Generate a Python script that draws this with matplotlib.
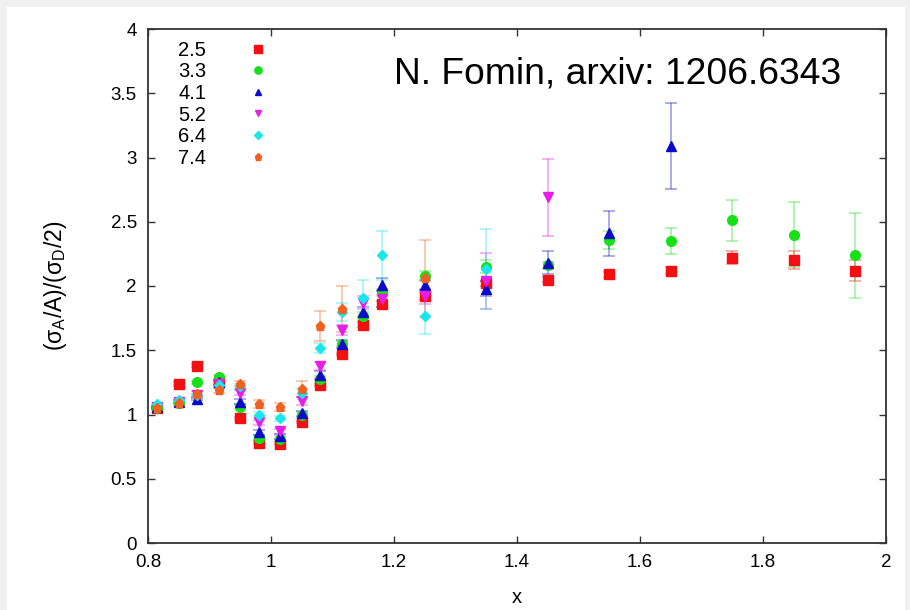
import matplotlib
matplotlib.use("Agg")
import matplotlib.pyplot as plt
from matplotlib.lines import Line2D
from matplotlib.patches import Rectangle

plt.rcParams['font.family'] = ['Liberation Sans', 'DejaVu Sans']

# ---- data ----
labels = ["2.5", "3.3", "4.1", "5.2", "6.4", "7.4"]

x_25 = [0.815, 0.85, 0.88, 0.915, 0.95, 0.98, 1.015, 1.05, 1.08, 1.115, 1.15, 1.18, 1.25, 1.35, 1.45, 1.55, 1.65, 1.75, 1.85, 1.95]
y_25 = [1.05, 1.24, 1.38, 1.25, 0.97, 0.78, 0.77, 0.94, 1.23, 1.47, 1.70, 1.86, 1.92, 2.02, 2.05, 2.09, 2.12, 2.22, 2.20, 2.12]
e_25 = [0.01, 0.01, 0.01, 0.01, 0.01, 0.01, 0.01, 0.01, 0.01, 0.01, 0.02, 0.02, 0.03, 0.02, 0.02, 0.02, 0.03, 0.05, 0.07, 0.08]

x_33 = [0.815, 0.85, 0.88, 0.915, 0.95, 0.98, 1.015, 1.05, 1.08, 1.115, 1.15, 1.18, 1.25, 1.35, 1.45, 1.55, 1.65, 1.75, 1.85, 1.95]
y_33 = [1.05, 1.09, 1.25, 1.29, 1.06, 0.82, 0.81, 1.00, 1.28, 1.55, 1.77, 1.95, 2.08, 2.15, 2.16, 2.36, 2.35, 2.51, 2.40, 2.24]
e_33 = [0.01, 0.01, 0.01, 0.02, 0.02, 0.02, 0.02, 0.02, 0.02, 0.02, 0.03, 0.03, 0.04, 0.05, 0.03, 0.07, 0.10, 0.16, 0.25, 0.33]

x_41 = [0.815, 0.85, 0.88, 0.915, 0.95, 0.98, 1.015, 1.05, 1.08, 1.115, 1.15, 1.18, 1.25, 1.35, 1.45, 1.55, 1.65]
y_41 = [1.06, 1.10, 1.12, 1.25, 1.10, 0.86, 0.83, 1.01, 1.31, 1.55, 1.80, 2.01, 2.01, 1.98, 2.18, 2.41, 3.09]
e_41 = [0.01, 0.01, 0.01, 0.02, 0.02, 0.02, 0.02, 0.02, 0.03, 0.03, 0.04, 0.05, 0.04, 0.06, 0.09, 0.175, 0.335]

x_52 = [0.815, 0.85, 0.88, 0.915, 0.95, 0.98, 1.015, 1.05, 1.08, 1.115, 1.15, 1.18, 1.25, 1.35, 1.45]
y_52 = [1.06, 1.10, 1.15, 1.24, 1.17, 0.94, 0.87, 1.105, 1.38, 1.66, 1.87, 1.90, 1.92, 2.04, 2.69]
e_52 = [0.01, 0.01, 0.01, 0.02, 0.02, 0.02, 0.02, 0.03, 0.03, 0.04, 0.05, 0.06, 0.06, 0.22, 0.30]

x_64 = [0.815, 0.85, 0.88, 0.915, 0.95, 0.98, 1.015, 1.05, 1.08, 1.115, 1.15, 1.18, 1.25, 1.35]
y_64 = [1.08, 1.11, 1.15, 1.23, 1.22, 1.00, 0.97, 1.17, 1.52, 1.80, 1.91, 2.24, 1.77, 2.13]
e_64 = [0.01, 0.01, 0.01, 0.02, 0.02, 0.02, 0.02, 0.03, 0.04, 0.07, 0.14, 0.19, 0.14, 0.31]

x_74 = [0.815, 0.85, 0.88, 0.915, 0.95, 0.98, 1.015, 1.05, 1.08, 1.115, 1.25]
y_74 = [1.05, 1.09, 1.16, 1.19, 1.24, 1.08, 1.06, 1.20, 1.69, 1.82, 2.06]
e_74 = [0.01, 0.02, 0.02, 0.02, 0.02, 0.03, 0.03, 0.06, 0.115, 0.18, 0.30]

series_x = [x_25, x_33, x_41, x_52, x_64, x_74]
series_y = [y_25, y_33, y_41, y_52, y_64, y_74]
series_e = [e_25, e_33, e_41, e_52, e_64, e_74]

colors = ['#f41010', '#18e018', '#0a0ac8', '#e61ee6', '#18e8ec', '#f06020']
markers = ['s', 'o', '^', 'v', 'D', 'p']
msizes = [7.0, 7.0, 6.5, 6.5, 5.5, 6.8]

# ---- figure ----
fig = plt.figure(figsize=(9.1, 6.1), dpi=100, facecolor='#f0f0f0')
fig.patches.append(Rectangle((7/910, 0), 898/910, 603/610, transform=fig.transFigure,
                             facecolor='white', edgecolor='none', zorder=-10))
ax = fig.add_axes([148/910, 1 - 543/610, 738/910, 514/610])
ax.set_facecolor('white')

for xs, ys, es, c in zip(series_x, series_y, series_e, colors):
    ax.errorbar(xs, ys, yerr=es, fmt='none', ecolor=c, alpha=0.4, elinewidth=1.2,
                capsize=4, capthick=1.2)
for xs, ys, c, m, ms in zip(series_x, series_y, colors, markers, msizes):
    ax.plot(xs, ys, linestyle='none', marker=m, markersize=ms, color=c,
            markeredgecolor=c)

ax.set_xlim(0.8, 2.0)
ax.set_ylim(0, 4)
ax.set_xticks([0.8, 1.0, 1.2, 1.4, 1.6, 1.8, 2.0])
ax.set_xticklabels(['0.8', '1', '1.2', '1.4', '1.6', '1.8', '2'])
ax.set_yticks([0, 0.5, 1, 1.5, 2, 2.5, 3, 3.5, 4])
ax.set_yticklabels(['0', '0.5', '1', '1.5', '2', '2.5', '3', '3.5', '4'])
ax.tick_params(direction='in', top=True, right=True, length=5, width=1,
               color='#333333', labelsize=13.5, pad=8)
for sp in ax.spines.values():
    sp.set_color('#333333')
    sp.set_linewidth(1.3)

ax.set_xlabel('x', fontsize=14.5, labelpad=12)
ax.set_ylabel(r'(σ$_\mathregular{A}$/A)/(σ$_\mathregular{D}$/2)', fontsize=16.5, labelpad=30)

handles = [Line2D([], [], linestyle='none', marker=m, markersize=ms * 0.75, color=c)
           for c, m, ms in zip(colors, markers, msizes)]
ax.legend(handles, labels, loc='upper left', bbox_to_anchor=(0.03, 0.993),
          frameon=False, markerfirst=False, fontsize=14.5, handlelength=1.0,
          handletextpad=2.05, labelspacing=0.13, borderaxespad=0)

ax.text(0.333, 0.913, 'N. Fomin, arxiv: 1206.6343', transform=ax.transAxes,
        fontsize=26.8, ha='left', va='center')

fig.savefig('out.png', dpi=100, facecolor=fig.get_facecolor())
